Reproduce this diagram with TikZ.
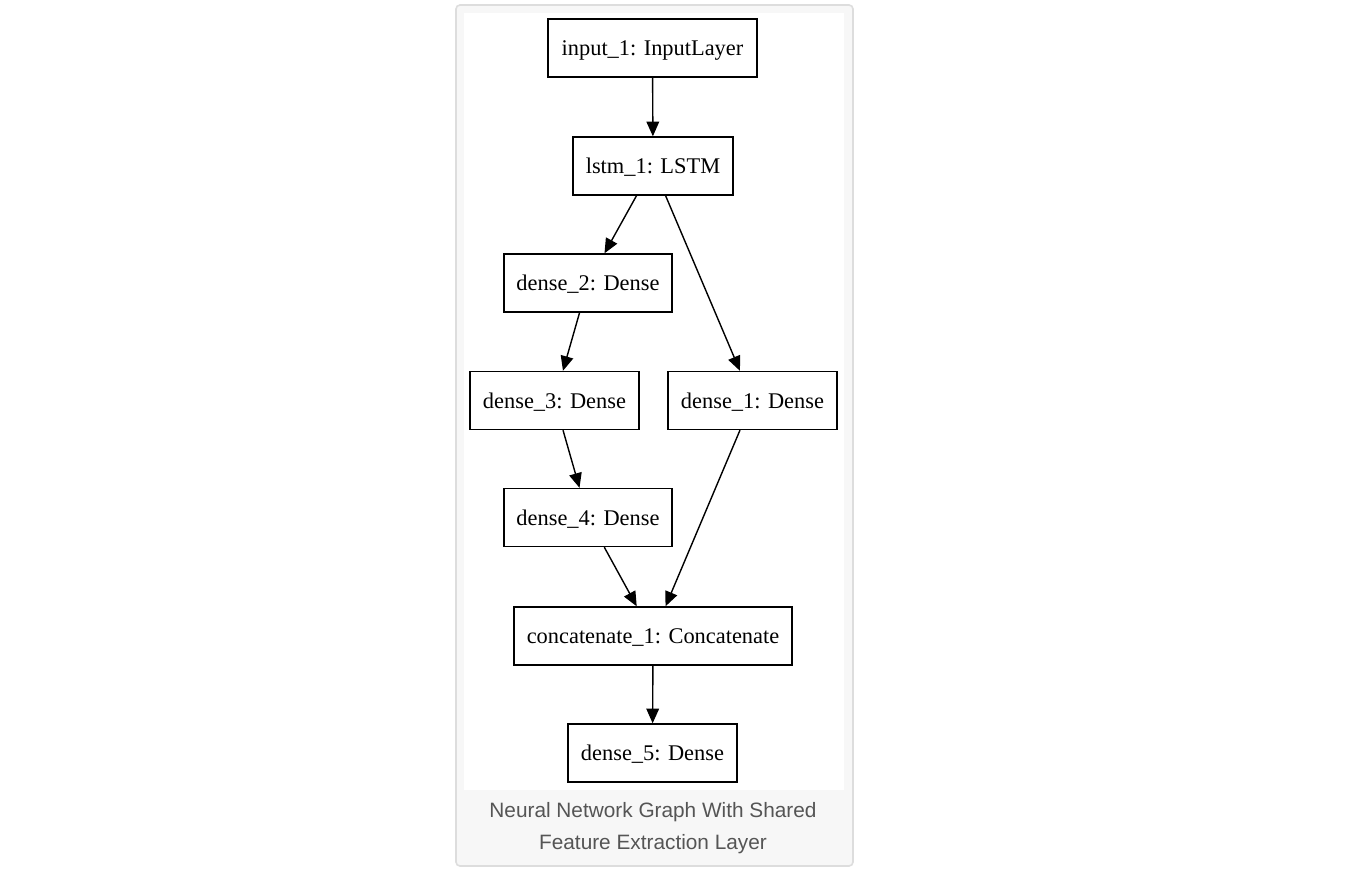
\documentclass[tikz,border=0pt]{standalone}
\usepackage{fontspec}
\setmainfont{Liberation Serif}
\newfontfamily\capfont{Liberation Sans}
\usetikzlibrary{arrows.meta}
\definecolor{framegray}{HTML}{DDDDDD}
\definecolor{capbg}{HTML}{F7F7F7}
\definecolor{captext}{HTML}{555555}
\begin{document}
\begin{tikzpicture}[x=0.75pt,y=-0.75pt,
  layer/.style={draw=black, line width=1.05pt, fill=white, inner sep=0pt,
    minimum height=43.5pt, text depth=0pt, font=\fontsize{16.8}{19}\selectfont},
  edge/.style={line width=1.05pt, -{Triangle[length=11pt,width=9.5pt]}},
  caption/.style={font=\capfont\fontsize{15.6}{24}\selectfont, text=captext, align=center}]
\useasboundingbox (0,0) rectangle (1366,884);
\fill[white] (0,0) rectangle (1366,884);
\filldraw[fill=capbg, draw=framegray, line width=1.2pt, rounded corners=3pt] (456,5) rectangle (853,866);
\fill[white] (464,13) rectangle (844,790);
\node[layer, minimum width=156.75pt] (input) at (652.5,48) {input\_1: InputLayer};
\node[layer, minimum width=120pt] (lstm) at (653,166) {lstm\_1: LSTM};
\node[layer, minimum width=126pt] (d2) at (588,283) {dense\_2: Dense};
\node[layer, minimum width=126.75pt] (d3) at (554.5,400.5) {dense\_3: Dense};
\node[layer, minimum width=126.75pt] (d1) at (752.5,400.5) {dense\_1: Dense};
\node[layer, minimum width=126pt] (d4) at (588,517.5) {dense\_4: Dense};
\node[layer, minimum width=208.5pt] (cat) at (653,636) {concatenate\_1: Concatenate};
\node[layer, minimum width=126.75pt] (d5) at (652.5,753) {dense\_5: Dense};
\draw[edge] (input) -- (lstm);
\draw[edge] (lstm) -- (d2);
\draw[edge] (lstm) -- (d1);
\draw[edge] (d2) -- (d3);
\draw[edge] (d3) -- (d4);
\draw[edge] (d4) -- (cat);
\draw[edge] (d1) -- (cat);
\draw[edge] (cat) -- (d5);
\node[caption] (cap) at (653,828) {Neural Network Graph With Shared\\Feature Extraction Layer};
\end{tikzpicture}
\end{document}
